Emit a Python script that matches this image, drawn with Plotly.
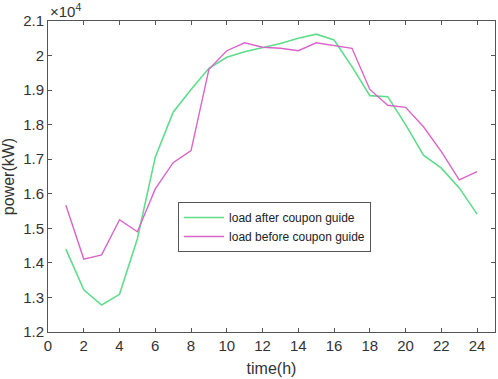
import plotly.graph_objects as go

hours = list(range(1, 25))
load_after = [1.440, 1.322, 1.278, 1.309, 1.470, 1.706, 1.836, 1.902, 1.963, 1.995,
              2.011, 2.023, 2.035, 2.050, 2.062, 2.045, 1.968, 1.884, 1.881, 1.800,
              1.712, 1.674, 1.617, 1.541]
load_before = [1.567, 1.411, 1.423, 1.525, 1.490, 1.614, 1.690, 1.725, 1.960, 2.014,
               2.037, 2.024, 2.021, 2.014, 2.037, 2.029, 2.021, 1.902, 1.856, 1.850,
               1.794, 1.722, 1.640, 1.664]
x_ticks = list(range(0, 25, 2))
y_ticks = [1.2, 1.3, 1.4, 1.5, 1.6, 1.7, 1.8, 1.9, 2.0, 2.1]
y_ticklabels = ["1.2", "1.3", "1.4", "1.5", "1.6", "1.7", "1.8", "1.9", "2", "2.1"]

font = "Liberation Sans, Arial, sans-serif"
fig = go.Figure()
fig.add_trace(go.Scatter(x=hours, y=load_after, mode="lines", name="load after coupon guide",
                         line=dict(color="#5fdc8c", width=1.6)))
fig.add_trace(go.Scatter(x=hours, y=load_before, mode="lines", name="load before coupon guide",
                         line=dict(color="#d965c9", width=1.4)))

axis_common = dict(showgrid=False, zeroline=False, showline=True, mirror="ticks",
                   linecolor="#555555", linewidth=1, ticks="inside", ticklen=4,
                   tickcolor="#555555", automargin=False,
                   tickfont=dict(family=font, size=15, color="#333333"))
fig.update_xaxes(range=[0, 25], tickvals=x_ticks, **axis_common,
                 title=dict(text="time(h)", font=dict(family=font, size=16, color="#333333"), standoff=9))
fig.update_yaxes(range=[1.2, 2.1], tickvals=y_ticks, ticktext=y_ticklabels, **axis_common,
                 title=dict(text="power(kW)", font=dict(family=font, size=16, color="#333333"), standoff=4))

fig.add_annotation(text="×10<sup>4</sup>", xref="paper", yref="paper", x=0.0, y=1.0,
                   xanchor="left", yanchor="bottom", showarrow=False, yshift=-1,
                   font=dict(family=font, size=15, color="#333333"))

fig.update_layout(
    width=498, height=379,
    margin=dict(l=48, r=3, t=21, b=47),
    paper_bgcolor="white", plot_bgcolor="white",
    legend=dict(x=0.291, y=0.418, xanchor="left", yanchor="top",
                bgcolor="white", bordercolor="#555555", borderwidth=1,
                font=dict(family=font, size=12, color="#222222"),
                itemwidth=40, tracegroupgap=0),
    showlegend=True,
)
fig.write_html("out.html", config={"displayModeBar": False},
               post_script="document.body.style.margin='0';document.body.style.overflow='hidden';")
